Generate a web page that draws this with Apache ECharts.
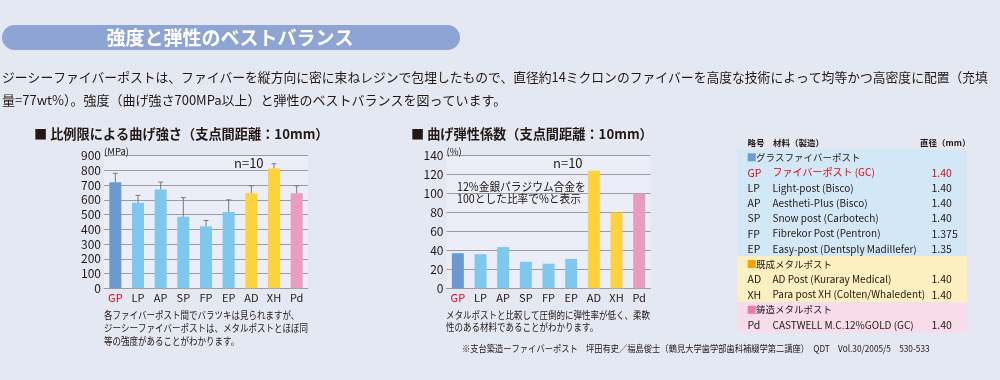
<!DOCTYPE html>
<html><head><meta charset="utf-8">
<script src="https://cdn.jsdelivr.net/npm/echarts@6/dist/echarts.min.js"></script>
<style>html,body{margin:0;padding:0;background:#E4E8F3;}#c{width:1000px;height:380px;}</style>
</head><body><div id="c"></div>
<script>
// ---- data ----
const categories = ['GP','LP','AP','SP','FP','EP','AD','XH','Pd'];
const barColors = ['#6A9AD1','#7EC7EF','#7EC7EF','#7EC7EF','#7EC7EF','#7EC7EF','#FDD23B','#FDD23B','#E99CC0'];
const strength = [720, 580, 670, 485, 420, 518, 645, 813, 645];
const strengthErrTop = [780, 630, 720, 615, 460, 600, 695, 845, 695];
const modulus = [37, 36, 43.5, 28, 26, 31, 124, 80, 100];
const strengthTicks = {min:0, max:900, interval:100};
const modulusTicks = {min:0, max:140, interval:20};

const tableCodes = ['GP','LP','AP','SP','FP','EP','AD','XH','Pd'];
const tableNames = ['ファイバーポスト (GC)','Light-post (Bisco)','Aestheti-Plus (Bisco)','Snow post (Carbotech)','Fibrekor Post (Pentron)','Easy-post (Dentsply Madillefer)','AD Post (Kuraray Medical)','Para post XH (Colten/Whaledent)','CASTWELL M.C.12%GOLD (GC)'];
const tableDiameters = ['1.40','1.40','1.40','1.40','1.375','1.35','1.40','1.40','1.40'];
const tableGroupOf = [0,0,0,0,0,0,1,1,2];
const groupNames = ['グラスファイバーポスト','既成メタルポスト','鋳造メタルポスト'];
const groupBg = ['#D2E8F7','#FCEFC0','#F8DCEA'];
const groupMark = ['#6C9CD2','#F5A300','#E87DA3'];

const FONT = "'Noto Sans CJK JP', sans-serif";
const TXT = '#231815';

const chart = echarts.init(document.getElementById('c'), null, {renderer:'canvas'});

function xCats(){
  return categories.map((c,i)=> i===0 ? {value:c, textStyle:{color:'#E60012'}} : c);
}
function barData(vals){
  return vals.map((v,i)=>({value:v, itemStyle:{color:barColors[i]}}));
}
const errData = strength.map((v,i)=>[i, v, strengthErrTop[i]]);

// graphic texts
const g = [];
function txt(x, y, text, font, opts){
  const o = Object.assign({type:'text', x:x, y:y, z:100, style:{text:text, fill:TXT, font:font, verticalAlign:'middle'}}, opts||{});
  g.push(o);
}
g.push({type:'rect', shape:{x:2,y:25,width:458,height:25,r:12.5}, style:{fill:'#8EA4D3'}});
g.push({type:'text', x:230, y:38, style:{text:'強度と弾性のベストバランス', fill:'#fff', font:'bold 19px '+FONT, align:'center', verticalAlign:'middle'}});
txt(2, 77, 'ジーシーファイバーポストは、ファイバーを縦方向に密に束ねレジンで包埋したもので、直径約14ミクロンのファイバーを高度な技術によって均等かつ高密度に配置（充填', '13px '+FONT, {scaleX:0.984});
txt(2, 100, '量=77wt%）。強度（曲げ強さ700MPa以上）と弾性のベストバランスを図っています。', '13px '+FONT);
txt(34, 134, '■ 比例限による曲げ強さ（支点間距離：10mm）', 'bold 13.2px '+FONT);
txt(411, 134, '■ 曲げ弾性係数（支点間距離：10mm）', 'bold 13.2px '+FONT);
txt(234, 163, 'n=10', '13px '+FONT);
txt(553, 163, 'n=10', '13px '+FONT);
txt(104, 151.5, '(MPa)', '9.5px '+FONT);
txt(446.5, 151.5, '(%)', '9.5px '+FONT);
txt(457, 186.5, '12%金銀パラジウム合金を', '11.5px '+FONT, {scaleX:0.93});
txt(457, 198.5, '100とした比率で%と表示', '11.5px '+FONT, {scaleX:0.93});
const note1 = ['各ファイバーポスト間でバラツキは見られますが、','ジーシーファイバーポストは、メタルポストとほぼ同','等の強度があることがわかります。'];
note1.forEach((t,i)=>txt(104, 315+i*13.3, t, '10px '+FONT, {scaleX:0.85}));
const note2 = ['メタルポストと比較して圧倒的に弾性率が低く、柔軟','性のある材料であることがわかります。'];
note2.forEach((t,i)=>txt(446, 315+i*12.5, t, '10px '+FONT, {scaleX:0.85}));
txt(462, 348, '※支台築造ーファイバーポスト　坪田有史／福島俊士（鶴見大学歯学部歯科補綴学第二講座）　QDT　Vol.30/2005/5　530-533', '9.5px '+FONT, {scaleX:0.87});

// table
const rowH = 15.25, y0 = 157.3;
const rows = [];
let prevGroup = -1;
tableCodes.forEach((c,i)=>{
  if (tableGroupOf[i] !== prevGroup){ rows.push({type:'group', g:tableGroupOf[i]}); prevGroup = tableGroupOf[i]; }
  rows.push({type:'item', i:i, g:tableGroupOf[i]});
});
groupNames.forEach((n,gi)=>{
  const idx = rows.map((r,k)=>r.g===gi?k:-1).filter(k=>k>=0);
  const top = y0 + idx[0]*rowH - 7.9, bot = y0 + idx[idx.length-1]*rowH + 7.6;
  g.push({type:'rect', z:1, shape:{x:737.5,y:top,width:229.5,height:bot-top}, style:{fill:groupBg[gi]}});
});
txt(747.5, 142.5, '略号', 'bold 8.5px '+FONT);
txt(773, 142.5, '材料（製造）', 'bold 8.5px '+FONT);
txt(920, 142.5, '直径（mm）', 'bold 8.5px '+FONT);
rows.forEach((r,k)=>{
  const y = y0 + k*rowH;
  if (r.type==='group'){
    g.push({type:'rect', z:100, shape:{x:747.7,y:y-4,width:8,height:8}, style:{fill:groupMark[r.g]}});
    txt(756, y, groupNames[r.g], '9.5px '+FONT);
  } else {
    const col = r.i===0 ? '#E60012' : TXT;
    txt(747.5, y, tableCodes[r.i], '10.5px '+FONT, {style:{text:tableCodes[r.i], fill:col, font:'10.5px '+FONT, verticalAlign:'middle'}});
    txt(772.5, y, tableNames[r.i], '10px '+FONT, {style:{text:tableNames[r.i], fill:col, font:'10px '+FONT, verticalAlign:'middle'}});
    txt(931.5, y, tableDiameters[r.i], '10.5px '+FONT, {style:{text:tableDiameters[r.i], fill:col, font:'10.5px '+FONT, verticalAlign:'middle'}});
  }
});

const gridCommon = {top:155.6, height:132.7, width:204, show:true, backgroundColor:'#EBEEF8', borderWidth:0};
function yAx(ticks, gi){
  return {type:'value', gridIndex:gi, min:ticks.min, max:ticks.max, interval:ticks.interval,
    axisLine:{show:false}, axisTick:{show:false},
    axisLabel:{margin:3, fontSize:12, color:TXT, fontFamily:FONT},
    splitLine:{lineStyle:{color:'#9C9C9C', width:1}}};
}
function xAx(gi){
  return {type:'category', gridIndex:gi, data:xCats(),
    axisLine:{show:true, lineStyle:{color:'#9C9C9C'}}, axisTick:{show:false},
    axisLabel:{margin:4, fontSize:11, color:TXT, fontFamily:FONT, interval:0}};
}

chart.setOption({
  animation:false,
  backgroundColor:'#E4E8F3',
  grid:[Object.assign({left:104}, gridCommon), Object.assign({left:446.5}, gridCommon)],
  xAxis:[xAx(0), xAx(1)],
  yAxis:[yAx(strengthTicks,0), yAx(modulusTicks,1)],
  series:[
    {type:'bar', xAxisIndex:0, yAxisIndex:0, barWidth:12, data:barData(strength), z:2},
    {type:'custom', xAxisIndex:0, yAxisIndex:0, z:3, data:errData,
      renderItem:function(params, api){
        const b = api.coord([api.value(0), api.value(1)]);
        const t = api.coord([api.value(0), api.value(2)]);
        return {type:'group', children:[
          {type:'line', shape:{x1:b[0],y1:b[1],x2:t[0],y2:t[1]}, style:{stroke:'#7A7A7A', lineWidth:1}},
          {type:'line', shape:{x1:t[0]-2.5,y1:t[1],x2:t[0]+2.5,y2:t[1]}, style:{stroke:'#7A7A7A', lineWidth:1}}
        ]};
      }},
    {type:'bar', xAxisIndex:1, yAxisIndex:1, barWidth:12, data:barData(modulus), z:2}
  ],
  graphic:g
});
</script></body></html>
